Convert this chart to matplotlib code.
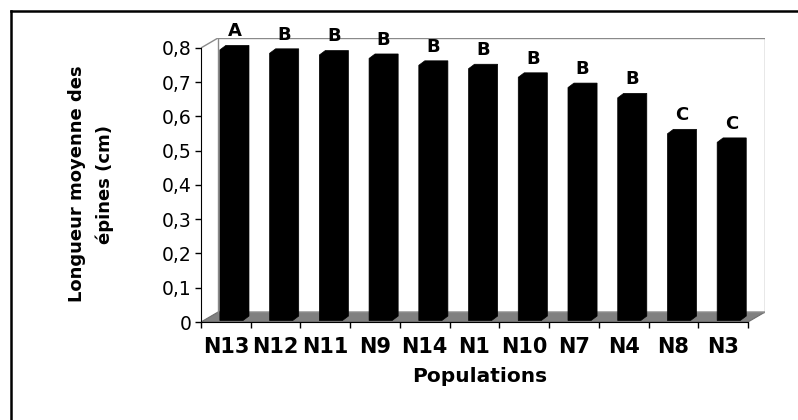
import numpy as np
import matplotlib
matplotlib.use("Agg")
import matplotlib.pyplot as plt
from matplotlib.patches import Polygon
from matplotlib.lines import Line2D

# Mean spine length per population, with significance groups
populations = ["N13", "N12", "N11", "N9", "N14", "N1", "N10", "N7", "N4", "N8", "N3"]
lengths = [0.79, 0.78, 0.775, 0.765, 0.745, 0.735, 0.71, 0.68, 0.65, 0.545, 0.52]
groups = ["A", "B", "B", "B", "B", "B", "B", "B", "B", "C", "C"]
y_ticks = [0, 0.1, 0.2, 0.3, 0.4, 0.5, 0.6, 0.7, 0.8]
y_ticklabels = ["0", "0,1", "0,2", "0,3", "0,4", "0,5", "0,6", "0,7", "0,8"]

n = len(populations)
y_max = 0.8

# pseudo-3D geometry (category units horizontally, value units vertically)
WALL_DX, WALL_DY = 0.342, 0.029
BAR_X0, BAR_W = 0.38, 0.465
BAR_DX, BAR_DY = 0.12, 0.013
BAR_BASE = 0.0044

fig = plt.figure(figsize=(7.98, 4.2), dpi=100)
ax = fig.add_axes([201 / 798, 98 / 420, 564 / 798, 284 / 420])
ax.set_xlim(0, n + WALL_DX)
ax.set_ylim(0, y_max + WALL_DY)

wall_col = "#8a8a8a"
floor_col = "#808080"

# floor
ax.add_patch(Polygon([(0, 0), (n, 0), (n + WALL_DX, WALL_DY), (WALL_DX, WALL_DY)],
                     closed=True, facecolor=floor_col, edgecolor="#6e6e6e",
                     linewidth=0.8, zorder=1))
# back wall and side wall edges
ax.plot([WALL_DX, n + WALL_DX, n + WALL_DX, WALL_DX, WALL_DX],
        [WALL_DY, WALL_DY, y_max + WALL_DY, y_max + WALL_DY, WALL_DY],
        color=wall_col, lw=1.0, zorder=1.5)
ax.plot([0, WALL_DX], [y_max, y_max + WALL_DY], color=wall_col, lw=1.0, zorder=1.5)

# bars: front face plus top and right faces, all in black
for i, (v, g) in enumerate(zip(lengths, groups)):
    x0f = i + BAR_X0
    x1f = x0f + BAR_W
    yb = BAR_BASE
    yt = BAR_BASE + v
    verts = [(x0f, yb), (x1f, yb), (x1f + BAR_DX, yb + BAR_DY),
             (x1f + BAR_DX, yt + BAR_DY), (x0f + BAR_DX, yt + BAR_DY), (x0f, yt)]
    ax.add_patch(Polygon(verts, closed=True, facecolor="black", edgecolor="black",
                         linewidth=0.5, zorder=3))
    ax.text(x0f + BAR_W / 2 + BAR_DX / 2, yt + BAR_DY + 0.027, g,
            ha="center", va="baseline", fontsize=13, fontweight="bold",
            family="DejaVu Sans", zorder=4)

# axes styling
for s in ("top", "right"):
    ax.spines[s].set_visible(False)
ax.spines["left"].set_bounds(0, y_max)
ax.spines["bottom"].set_bounds(0, n)
ax.spines["left"].set_zorder(5)
ax.spines["bottom"].set_zorder(5)

ax.set_yticks(y_ticks)
ax.set_yticklabels(y_ticklabels, fontsize=13.5, family="DejaVu Sans")
ax.tick_params(axis="y", direction="out", length=4.5, width=1, pad=2)

ax.set_xticks(np.arange(n) + 0.5)
ax.set_xticklabels(populations, fontsize=15, fontweight="bold", family="DejaVu Sans")
ax.set_xticks(np.arange(n + 1), minor=True)
ax.tick_params(axis="x", which="major", length=0, pad=11)
ax.tick_params(axis="x", which="minor", direction="out", length=4, width=1)

fig.text(91 / 798, 1 - 184 / 420, "Longueur moyenne des\népines (cm)",
         rotation=90, ha="center", va="center", multialignment="center",
         fontsize=13, fontweight="bold", family="DejaVu Sans", linespacing=1.7)
fig.text(480 / 798, 1 - 377 / 420, "Populations", ha="center", va="center",
         fontsize=14.5, fontweight="bold", family="DejaVu Sans")

# outer frame (top and left edges fall inside the canvas)
fx, fy = 10.5 / 798, 1 - 10.5 / 420
fig.add_artist(Line2D([fx, fx], [-0.1, fy], transform=fig.transFigure,
                      color="black", lw=1.8))
fig.add_artist(Line2D([fx, 1.1], [fy, fy], transform=fig.transFigure,
                      color="black", lw=1.8))

fig.savefig("out.png", dpi=100, facecolor="white")
